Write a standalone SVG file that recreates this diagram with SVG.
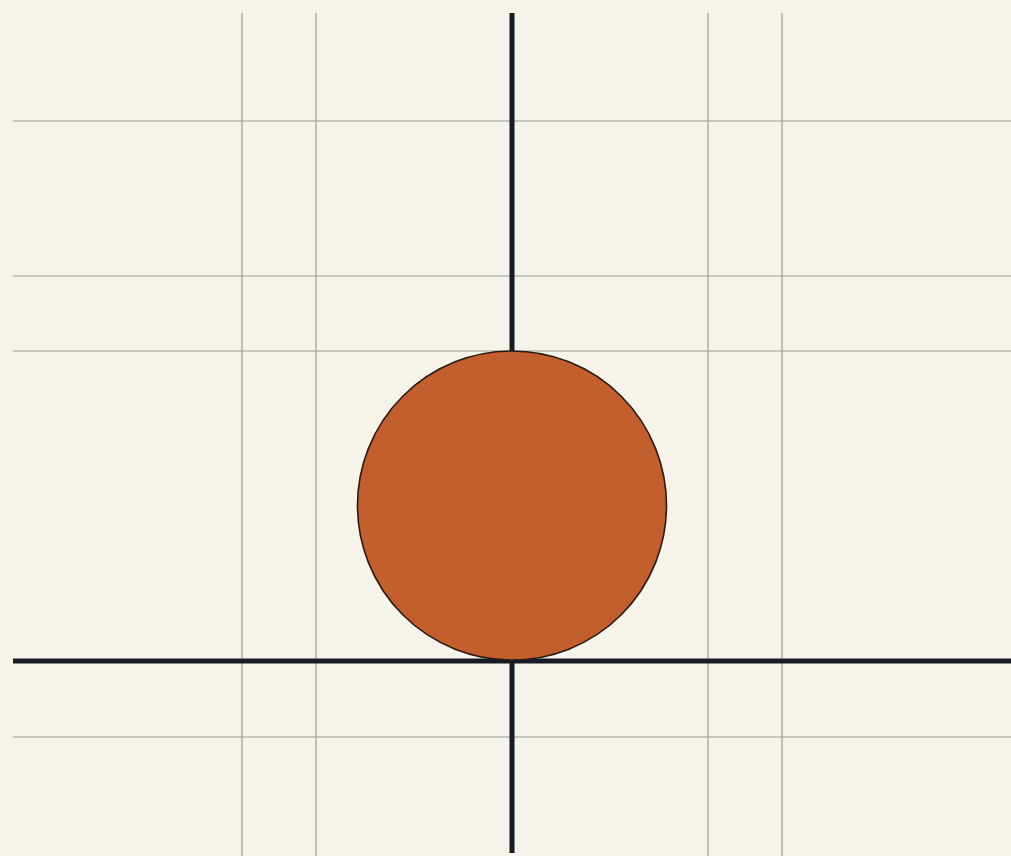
<svg xmlns="http://www.w3.org/2000/svg" width="1011" height="856" viewBox="0 0 1011 856">
<style>
.grid{stroke:#9c9c96;stroke-width:1.2;fill:none}
.axis{stroke:#161b26;stroke-width:5;fill:none}
.ball{fill:#c25f2c;stroke:#2a1a12;stroke-width:1.6}
</style>
<rect width="1011" height="856" fill="#f6f4ea"/>
<g id="grid">
<line class="grid" x1="242" y1="13" x2="242" y2="856"/>
<line class="grid" x1="316" y1="13" x2="316" y2="856"/>
<line class="grid" x1="708" y1="13" x2="708" y2="856"/>
<line class="grid" x1="782" y1="13" x2="782" y2="856"/>
<line class="grid" x1="13" y1="121" x2="1011" y2="121"/>
<line class="grid" x1="13" y1="276" x2="1011" y2="276"/>
<line class="grid" x1="13" y1="351" x2="1011" y2="351"/>
<line class="grid" x1="13" y1="737" x2="1011" y2="737"/>
</g>
<g id="axes">
<line class="axis" x1="512" y1="13" x2="512" y2="853"/>
<line class="axis" x1="13" y1="661" x2="1011" y2="661"/>
</g>
<g id="ball">
<circle class="ball" cx="512" cy="505.5" r="154.5"/>
</g>
</svg>
